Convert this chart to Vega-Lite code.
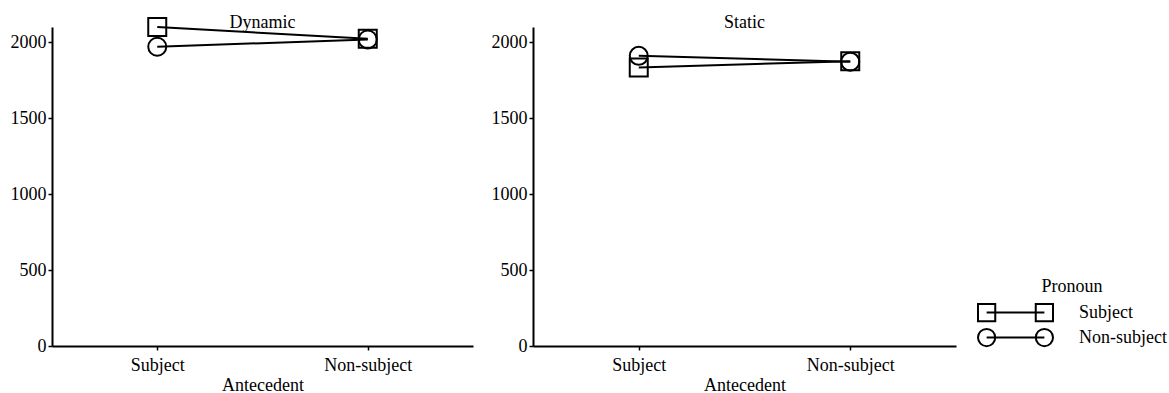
{
  "$schema": "https://vega.github.io/schema/vega-lite/v6.json",
  "background": "white",
  "padding": {"left": 10, "top": 14, "right": 5, "bottom": 0},
  "data": {
    "values": [
      {"Condition": "Dynamic", "Antecedent": "Subject", "Pronoun": "Subject", "RT": 2100},
      {"Condition": "Dynamic", "Antecedent": "Subject", "Pronoun": "Non-subject", "RT": 1970},
      {"Condition": "Dynamic", "Antecedent": "Non-subject", "Pronoun": "Subject", "RT": 2022},
      {"Condition": "Dynamic", "Antecedent": "Non-subject", "Pronoun": "Non-subject", "RT": 2018},
      {"Condition": "Static", "Antecedent": "Subject", "Pronoun": "Subject", "RT": 1833},
      {"Condition": "Static", "Antecedent": "Subject", "Pronoun": "Non-subject", "RT": 1910},
      {"Condition": "Static", "Antecedent": "Non-subject", "Pronoun": "Subject", "RT": 1875},
      {"Condition": "Static", "Antecedent": "Non-subject", "Pronoun": "Non-subject", "RT": 1872}
    ]
  },
  "spacing": 60,
  "bounds": "flush",
  "resolve": {"scale": {"shape": "independent"}, "legend": {"shape": "independent"}},
  "hconcat": [
    {
      "title": {"text": "Dynamic", "dy": 13},
      "width": 421,
      "height": 319,
      "transform": [{"filter": "datum.Condition === 'Dynamic'"}],
      "resolve": {"scale": {"shape": "independent"}, "legend": {"shape": "independent"}},
      "layer": [
        {
          "mark": {"type": "line", "color": "black", "strokeWidth": 2},
          "encoding": {
            "x": {"field": "Antecedent", "type": "nominal", "sort": ["Subject", "Non-subject"], "scale": {"type": "point", "padding": 0.5}, "axis": {"title": "Antecedent", "labelAngle": 0}},
            "y": {"field": "RT", "type": "quantitative", "scale": {"domain": [0, 2100], "nice": false}, "axis": {"title": null, "format": "d", "values": [0, 500, 1000, 1500, 2000]}},
            "detail": {"field": "Pronoun"}
          }
        },
        {
          "mark": {"type": "point", "filled": false, "color": "black", "strokeWidth": 2, "size": 324, "opacity": 1},
          "encoding": {
            "x": {"field": "Antecedent", "type": "nominal", "sort": ["Subject", "Non-subject"]},
            "y": {"field": "RT", "type": "quantitative"},
            "shape": {"field": "Pronoun", "type": "nominal", "scale": {"domain": ["Subject", "Non-subject"], "range": ["square", "circle"]}, "legend": null}
          }
        },
        {
          "description": "legend key: marker, connecting line, marker",
          "mark": {"type": "point", "filled": false, "color": "black", "strokeWidth": 2, "size": 100, "opacity": 0},
          "encoding": {
            "x": {"field": "Antecedent", "type": "nominal", "sort": ["Subject", "Non-subject"]},
            "y": {"field": "RT", "type": "quantitative"},
            "shape": {
              "field": "Pronoun", "type": "nominal",
              "scale": {
                "domain": ["Subject", "Non-subject"],
                "range": [
                  "M-1,-0.23H-0.54V0.23H-1Z M0.54,-0.23H1V0.23H0.54Z M-0.77,0H0.77",
                  "M-1,0A0.23,0.23,0,1,0,-0.54,0A0.23,0.23,0,1,0,-1,0Z M0.54,0A0.23,0.23,0,1,0,1,0A0.23,0.23,0,1,0,0.54,0Z M-0.77,0H0.77"
                ]
              },
              "legend": {
                "title": "Pronoun",
                "orient": "none",
                "legendX": 925,
                "legendY": 251,
                "symbolSize": 5625,
                "symbolOpacity": 1,
                "symbolStrokeColor": "black",
                "symbolStrokeWidth": 2,
                "symbolFillColor": "transparent",
                "clipHeight": 23,
                "labelOffset": 25,
                "titleAnchor": "middle",
                "titlePadding": 5
              }
            }
          }
        }
      ]
    },
    {
      "title": "Static",
      "width": 423,
      "height": 319,
      "transform": [{"filter": "datum.Condition === 'Static'"}],
      "layer": [
        {
          "mark": {"type": "line", "color": "black", "strokeWidth": 2},
          "encoding": {
            "x": {"field": "Antecedent", "type": "nominal", "sort": ["Subject", "Non-subject"], "scale": {"type": "point", "padding": 0.5}, "axis": {"title": "Antecedent", "labelAngle": 0}},
            "y": {"field": "RT", "type": "quantitative", "scale": {"domain": [0, 2100], "nice": false}, "axis": {"title": null, "format": "d", "values": [0, 500, 1000, 1500, 2000]}},
            "detail": {"field": "Pronoun"}
          }
        },
        {
          "mark": {"type": "point", "filled": false, "color": "black", "strokeWidth": 2, "size": 324, "opacity": 1},
          "encoding": {
            "x": {"field": "Antecedent", "type": "nominal", "sort": ["Subject", "Non-subject"]},
            "y": {"field": "RT", "type": "quantitative"},
            "shape": {"field": "Pronoun", "type": "nominal", "scale": {"domain": ["Subject", "Non-subject"], "range": ["square", "circle"]}, "legend": null}
          }
        }
      ]
    }
  ],
  "config": {
    "font": "Liberation Serif",
    "view": {"stroke": null},
    "axis": {
      "domainColor": "black", "domainWidth": 2,
      "tickColor": "black", "tickWidth": 1.5, "tickSize": 4,
      "labelFont": "Liberation Serif", "labelFontSize": 18, "labelColor": "black", "labelPadding": 2,
      "titleFont": "Liberation Serif", "titleFontSize": 18, "titleFontWeight": "normal", "titleColor": "black", "titlePadding": 2,
      "grid": false
    },
    "axisX": {"labelPadding": 6},
    "title": {"font": "Liberation Serif", "fontSize": 18, "fontWeight": "normal", "color": "black", "offset": -5},
    "legend": {
      "labelFont": "Liberation Serif", "labelFontSize": 18, "labelColor": "black",
      "titleFont": "Liberation Serif", "titleFontSize": 18, "titleFontWeight": "normal", "titleColor": "black"
    }
  }
}
